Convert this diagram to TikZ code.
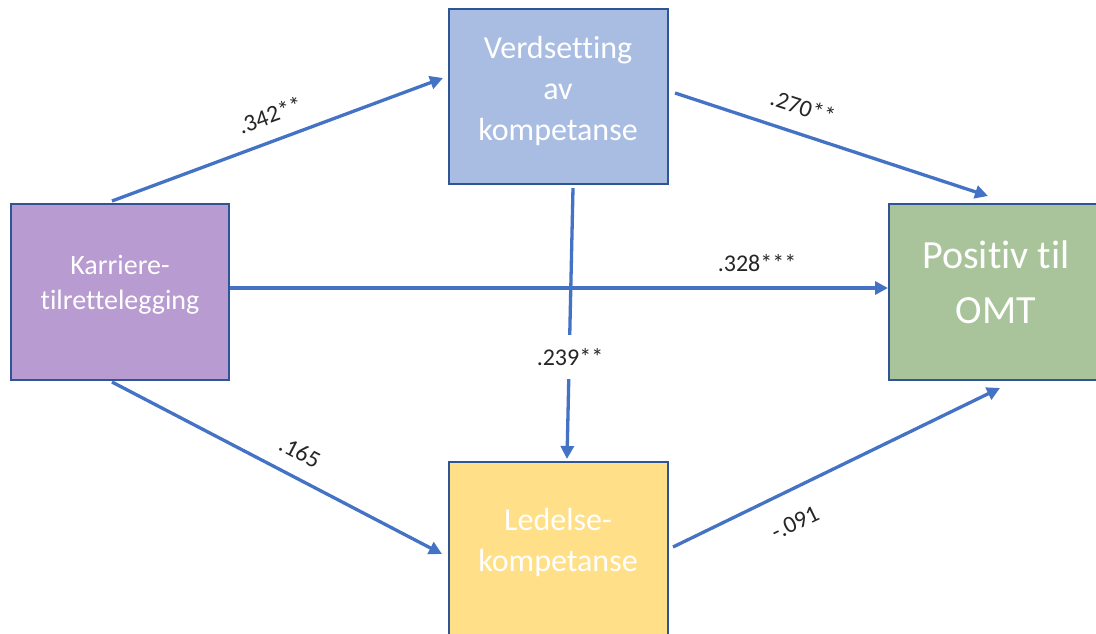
\documentclass[tikz,border=0pt]{standalone}
\usepackage{fontspec}
\setmainfont[Ligatures={NoCommon}]{Carlito}
\usetikzlibrary{arrows.meta}
\definecolor{boxline}{HTML}{2F5597}
\definecolor{arrowblue}{HTML}{4472C4}
\definecolor{purplefill}{HTML}{B89BD1}
\definecolor{bluefill}{HTML}{A9BDE3}
\definecolor{greenfill}{HTML}{A9C49B}
\definecolor{yellowfill}{HTML}{FFDF88}
\begin{document}
\begin{tikzpicture}[x=1pt,y=-1pt,
  box/.style={draw=boxline, line width=2pt, inner sep=0pt, outer sep=0pt},
  boxtext/.style={text=white, align=center, inner sep=0pt},
  coef/.style={text=black!85, inner sep=1pt, font=\fontsize{24}{28}\selectfont},
  path/.style={draw=arrowblue, line width=3.3pt,
    -{Triangle[length=13pt,width=13pt]}}
]
\clip (0,0) rectangle (1096,634);
\fill[white] (0,0) rectangle (1096,634);

% boxes
\node[box, fill=purplefill, minimum width=218pt, minimum height=176pt] (k) at (120,292) {};
\node[box, fill=bluefill, minimum width=219pt, minimum height=175pt] (v) at (558.5,96.5) {};
\node[box, fill=greenfill, minimum width=221pt, minimum height=176pt] (p) at (999.5,292) {};
\node[box, fill=yellowfill, minimum width=219pt, minimum height=180pt] (l) at (558.5,552) {};

% box texts
\node[boxtext, font=\fontsize{28}{35}\selectfont] (kt) at (120,285) {Karriere-\\tilrettelegging};
\node[boxtext, font=\fontsize{32}{41}\selectfont] (vt) at (558,91) {Verdsetting\\av\\kompetanse};
\node[boxtext, font=\fontsize{40}{55}\selectfont] (pt) at (996,282) {Positiv til\\OMT};
\node[boxtext, font=\fontsize{32}{41}\selectfont] (lt) at (558,542) {Ledelse-\\kompetanse};

% paths
\draw[path] ([xshift=101pt,yshift=3pt]k.north west) -- ([xshift=-6pt,yshift=-69pt]v.north west);
\draw[path] ([xshift=7pt,yshift=-84pt]v.north east) -- ([xshift=99pt,yshift=8pt]p.north west);
\draw[path] ([xshift=1pt,yshift=4pt]k.east) -- ([xshift=-1pt,yshift=4pt]p.west);
\draw[path] ([xshift=14.5pt,yshift=-4pt]v.south) -- ([xshift=8.5pt,yshift=3pt]l.north);
\draw[path] ([xshift=101pt,yshift=-2pt]k.south west) -- ([xshift=-7pt,yshift=-92pt]l.north west);
\draw[path] ([xshift=5pt,yshift=-85pt]l.north east) -- ([xshift=111pt,yshift=-8pt]p.south west);

% coefficients
\node[coef, rotate=20] (c1) at (270,115) {.342**};
\node[coef, rotate=-18] (c2) at (803,107) {.270**};
\node[coef] (c3) at (757,263) {.328***};
\node[coef, fill=white, minimum height=44pt] (c4) at (570,357) {.239**};
\node[coef, rotate=-27.5] (c5) at (300,452) {.165};
\node[coef, rotate=26] (c6) at (795,523) {-.091};
\end{tikzpicture}
\end{document}
